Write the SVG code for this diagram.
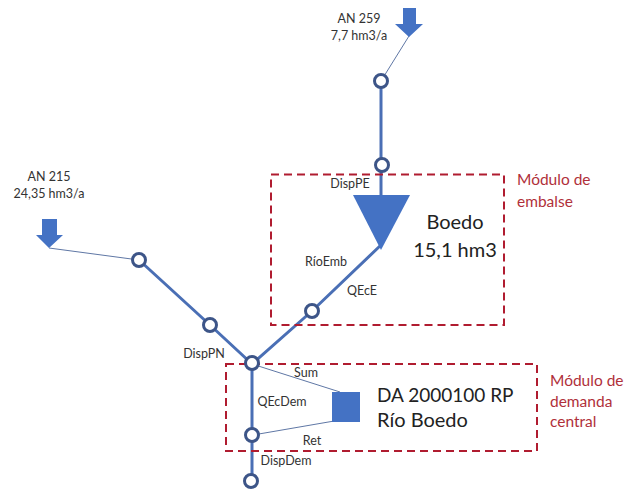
<svg xmlns="http://www.w3.org/2000/svg" width="625" height="489" viewBox="0 0 625 489">
<style>
text{font-family:"Lato","Open Sans","Liberation Sans",sans-serif;fill:#333}
.s{font-size:12.500px}
.b{font-size:20px;fill:#222}
.d{font-size:19px;fill:#222}
.r{font-size:15.500px;fill:#b0303a}
.thin{stroke:#5f77a5;stroke-width:1;fill:none}
.main{stroke:#4a6fb5;stroke-width:3;fill:none}
.box{fill:none;stroke:#b01c30;stroke-width:2;stroke-dasharray:8 5}
.n{fill:#fff;stroke:#3d5588;stroke-width:3}
.shape{fill:#4472c4}
</style>
<rect width="625" height="489" fill="#fff"/>
<g id="connectors">
<path class="thin" d="M409 36L381 81"/>
<path class="main" d="M381 81V196"/>
<path class="thin" d="M49 248L139 260"/>
<path class="main" d="M139 260L210 325L252 364"/>
<path class="main" d="M252 364L312 311L381 245"/>
<path class="main" d="M252 364V481"/>
<path class="thin" d="M252 364L340 392"/>
<path class="thin" d="M253 435L340 420"/>
</g>
<g id="modulo-embalse">
<rect class="box" x="271" y="174.500" width="233" height="150.500"/>
<text class="r" x="517" y="185">Módulo de</text>
<text class="r" x="517" y="207">embalse</text>
</g>
<g id="modulo-demanda">
<rect class="box" x="226" y="364" width="311" height="87"/>
<text class="r" x="550" y="386">Módulo de</text>
<text class="r" x="550" y="407">demanda</text>
<text class="r" x="550" y="427">central</text>
</g>
<g id="an259">
<path class="shape" d="M403 8H416V24H423L409 37L395 24H403Z"/>
<text class="s" x="359" y="23" text-anchor="middle">AN 259</text>
<text class="s" x="359" y="40" text-anchor="middle">7,7 hm3/a</text>
</g>
<g id="an215">
<path class="shape" d="M42 219H57V235H63L49 248L36 235H42Z"/>
<text class="s" x="49" y="181" text-anchor="middle">AN 215</text>
<text class="s" x="49" y="198" text-anchor="middle">24,35 hm3/a</text>
</g>
<g id="boedo">
<path class="shape" d="M353 195H410L381 250Z"/>
<text class="s" x="350" y="188" text-anchor="middle">DispPE</text>
<text class="b" x="455" y="229" text-anchor="middle">Boedo</text>
<text class="b" x="455" y="257" text-anchor="middle">15,1 hm3</text>
<text class="s" x="326" y="266" text-anchor="middle">RíoEmb</text>
<text class="s" x="362" y="295" text-anchor="middle">QEcE</text>
</g>
<g id="demanda">
<rect class="shape" x="332" y="392" width="28" height="30"/>
<text class="d" x="377" y="402">DA 2000100 RP</text>
<text class="b" x="377" y="427">Río Boedo</text>
<text class="s" x="306" y="377" text-anchor="middle">Sum</text>
<text class="s" x="282" y="406" text-anchor="middle">QEcDem</text>
<text class="s" x="312" y="445" text-anchor="middle">Ret</text>
<text class="s" x="286" y="465" text-anchor="middle">DispDem</text>
<text class="s" x="204" y="358" text-anchor="middle">DispPN</text>
</g>
<g id="nodes">
<circle id="n1" class="n" cx="381" cy="81" r="6.500"/>
<circle id="n2" class="n" cx="382" cy="165" r="6.500"/>
<circle id="n3" class="n" cx="139" cy="260" r="6.500"/>
<circle id="n4" class="n" cx="210" cy="325" r="6.500"/>
<circle id="n5" class="n" cx="312" cy="311" r="6.500"/>
<circle id="n6" class="n" cx="252" cy="363" r="6.500"/>
<circle id="n7" class="n" cx="252" cy="435" r="6.500"/>
<circle id="n8" class="n" cx="251" cy="481" r="6.500"/>
</g>
</svg>
